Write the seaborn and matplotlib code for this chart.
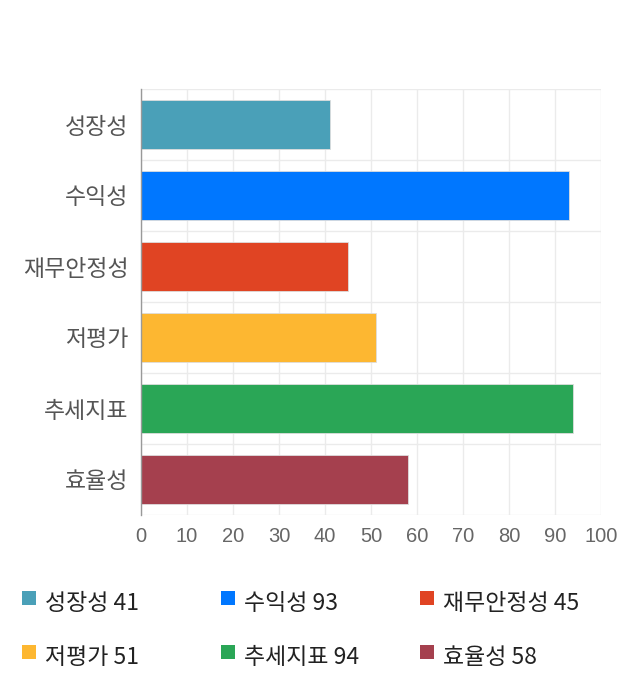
import matplotlib
matplotlib.use("Agg")
import matplotlib.pyplot as plt
import seaborn as sns
from matplotlib.patches import Rectangle

categories = ["성장성", "수익성", "재무안정성", "저평가", "추세지표", "효율성"]
scores = [41, 93, 45, 51, 94, 58]
colors = ["#4aa0b8", "#0077ff", "#e04423", "#fdb731", "#2aa656", "#a5404e"]
xticks = [0, 10, 20, 30, 40, 50, 60, 70, 80, 90, 100]

sns.set_style("white")
plt.rcParams["font.family"] = ["Noto Sans CJK KR", "DejaVu Sans"]

fig = plt.figure(figsize=(6.4, 7.0), dpi=100)
ax = fig.add_axes([141 / 640, 1 - 515 / 700, 460 / 640, 426 / 700])

sns.barplot(
    x=scores, y=categories, hue=categories, palette=colors,
    orient="h", width=0.7, legend=False, ax=ax,
    edgecolor="#dddddd", linewidth=0.6, saturation=1,
)

ax.set_xlim(0, 100)
ax.set_ylim(5.5, -0.5)
ax.set_xticks(xticks)
ax.set_xticklabels([str(t) for t in xticks])
ax.set_yticks(range(len(categories)))
ax.set_yticklabels(categories)
ax.set_yticks([i - 0.5 for i in range(len(categories) + 1)], minor=True)
ax.set_axisbelow(True)

ax.grid(axis="x", which="major", color="#ebebeb", linewidth=1)
ax.grid(axis="y", which="minor", color="#ebebeb", linewidth=1)
ax.tick_params(axis="y", which="major", length=0, pad=9, labelsize=16.5, labelcolor="#555555")
ax.tick_params(axis="y", which="minor", length=11, color="#ebebeb", width=1)
ax.tick_params(axis="x", which="major", length=7, color="#ebebeb", width=1,
               labelsize=14.5, labelcolor="#666666", pad=2)
for lab in ax.get_xticklabels():
    lab.set_family(["Liberation Sans", "DejaVu Sans"])
for lab in ax.get_yticklabels():
    lab.set_fontweight("light")

for side in ["top", "right", "bottom"]:
    ax.spines[side].set_visible(False)
ax.spines["left"].set_color("#999999")
ax.spines["left"].set_linewidth(1)
ax.set_xlabel("")
ax.set_ylabel("")

# legend below the chart
col_x = [22, 221, 420]
row_y = [591, 645]
for i, (name, val, c) in enumerate(zip(categories, scores, colors)):
    x0 = col_x[i % 3]
    y0 = row_y[i // 3]
    fig.patches.append(Rectangle(
        (x0 / 640, 1 - (y0 + 14) / 700), 14 / 640, 14 / 700,
        transform=fig.transFigure, facecolor=c, edgecolor="none"))
    fig.text((x0 + 23) / 640, 1 - (y0 + 12) / 700, f"{name} {val}",
             fontsize=16.5, color="#222222", va="center", ha="left")

fig.savefig("out.png", dpi=100, facecolor="white")
